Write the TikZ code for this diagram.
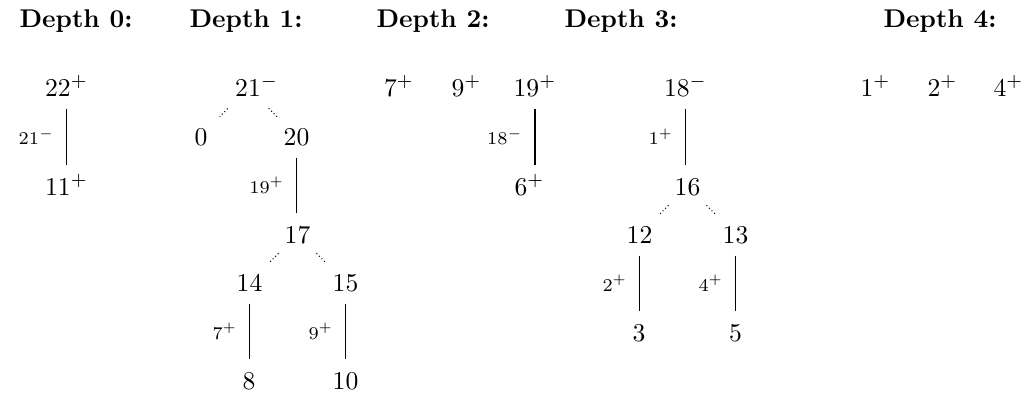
\documentclass[tikz,border=0pt]{standalone}
\usepackage{amsmath}
\begin{document}
\begin{tikzpicture}[x=0.39pt,y=-0.39pt,
  num/.style={anchor=base,inner xsep=0pt,inner ysep=4.7pt,text height=6.8pt,text depth=0pt,font=\normalsize},
  head/.style={anchor=base west,inner sep=0pt,font=\normalsize\bfseries},
  edgelab/.style={midway,left=4.6pt,inner sep=0pt,font=\scriptsize},
  solidedge/.style={line width=0.4pt},
  dotedge/.style={densely dotted,line width=0.4pt,shorten <=10.5pt,shorten >=10.5pt}]
\useasboundingbox (0,0) rectangle (1031,394);
% headings
\node[head] (h0) at (19,27) {Depth 0:};
\node[head] (h1) at (189,27) {Depth 1:};
\node[head] (h2) at (376,27) {Depth 2:};
\node[head] (h3) at (564,27) {Depth 3:};
\node[head] (h4) at (883,27) {Depth 4:};
% depth 0
\node[num] (n22) at (66.5,96) {$22^+$};
\node[num] (n11) at (66.5,195) {$11^+$};
\draw[solidedge] (n22.south) -- (n22.south |- n11.north) node[edgelab] {$21^-$};
% depth 1
\node[num] (n21) at (248,96) {$21\rlap{$^-$}$};
\node[num] (n0) at (201,145) {$0$};
\node[num] (n20) at (296.5,145) {$20$};
\node[num] (n17) at (297.5,243) {$17$};
\node[num] (n14) at (249.5,291) {$14$};
\node[num] (n15) at (345.5,291) {$15$};
\node[num] (n8) at (249,389) {$8$};
\node[num] (n10) at (345.5,389) {$10$};
\draw[dotedge,shorten <=11.5pt] (n21.center) -- (n0.center);
\draw[dotedge,shorten <=11.5pt] (n21.center) -- (n20.center);
\draw[solidedge] (n20.south) -- (n20.south |- n17.north) node[edgelab] {$19^+$};
\draw[dotedge] (n17.center) -- (n14.center);
\draw[dotedge] (n17.center) -- (n15.center);
\draw[solidedge] (n14.south) -- (n14.south |- n8.north) node[edgelab] {$7^+$};
\draw[solidedge] (n15.south) -- (n15.south |- n10.north) node[edgelab] {$9^+$};
% depth 2
\node[num] (n7) at (399,96) {$7^+$};
\node[num] (n9) at (466.5,96) {$9^+$};
\node[num] (n19) at (535,96) {$19^+$};
\node[num] (n6) at (529.5,195) {$6^+$};
\draw[solidedge] (n19.south) -- (n19.south |- n6.north) node[edgelab] {$18^-$};
% depth 3
\node[num] (n18) at (685.5,96) {$18^-$};
\node[num] (n16) at (687.5,195) {$16$};
\node[num] (n12) at (639.5,243) {$12$};
\node[num] (n13) at (735.5,243) {$13$};
\node[num] (n3) at (639,341) {$3$};
\node[num] (n5) at (735.5,341) {$5$};
\draw[solidedge] (n18.south) -- (n18.south |- n16.north) node[edgelab] {$1^+$};
\draw[dotedge] (n16.center) -- (n12.center);
\draw[dotedge] (n16.center) -- (n13.center);
\draw[solidedge] (n12.south) -- (n12.south |- n3.north) node[edgelab] {$2^+$};
\draw[solidedge] (n13.south) -- (n13.south |- n5.north) node[edgelab] {$4^+$};
% depth 4
\node[num] (n1) at (875.5,96) {$1^+$};
\node[num] (n2) at (942.5,96) {$2^+$};
\node[num] (n4) at (1008.5,96) {$4^+$};
\end{tikzpicture}
\end{document}
